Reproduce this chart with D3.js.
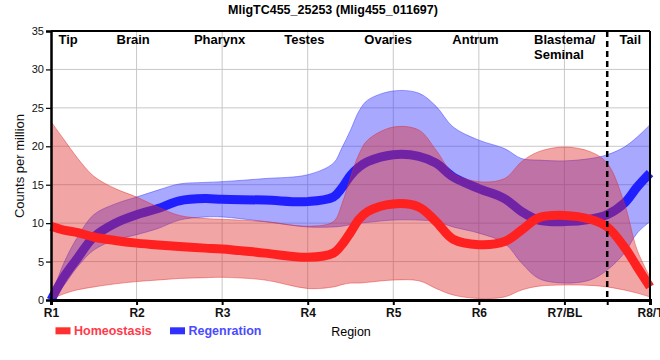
<!DOCTYPE html>
<html>
<head>
<meta charset="utf-8">
<script src="https://cdn.jsdelivr.net/npm/d3@7"></script>
<style>
  html, body { margin: 0; padding: 0; background: #fff; }
  svg { display: block; font-family: "Liberation Sans", Arial, sans-serif; }
</style>
</head>
<body>
<svg id="chart" width="660" height="360"></svg>
<script>
// ---- data ----
const title = "MligTC455_25253 (Mlig455_011697)";
const tickLabels = ["R1", "R2", "R3", "R4", "R5", "R6", "R7/BL", "R8/T"];
const regionNames = ["Tip", "Brain", "Pharynx", "Testes", "Ovaries", "Antrum", "Blastema/|Seminal", "Tail"];
const regionPos = [1.2, 1.96, 2.97, 3.96, 4.94, 5.96, 6.645, 7.77];
const yTicks = [0, 5, 10, 15, 20, 25, 30, 35];
const seriesNames = ["Homeostasis", "Regenration"];

// positions along the region axis (1 = R1 ... 8 = R8)
const pos = [1, 1.15, 1.3, 1.5, 1.75, 2, 2.25, 2.5, 2.8, 3, 3.5, 4, 4.3, 4.4, 4.5, 4.6, 4.7, 5, 5.3, 5.5, 5.7, 6, 6.3, 6.5, 6.7, 7, 7.3, 7.5, 7.7, 7.85, 8];

const homMean  = [9.6, 9.1, 8.8, 8.2, 7.75, 7.4, 7.15, 6.95, 6.75, 6.65, 6.1, 5.55, 6.1, 7.2, 8.8, 10.5, 11.5, 12.5, 12.1, 10.2, 7.9, 7.2, 7.6, 9.1, 10.7, 11.0, 10.5, 9.5, 6.9, 4.3, 1.7];
const homUpper = [23.2, 20.9, 18.6, 16.1, 14.5, 13.4, 12.1, 11.0, 10.6, 10.5, 10.2, 9.6, 10.2, 12.5, 16.0, 19.0, 20.8, 22.5, 22.1, 19.5, 16.5, 15.4, 15.8, 18.0, 19.3, 19.9, 19.3, 17.8, 12.6, 6.5, 3.0];
const homLower = [0.1, 0.8, 1.3, 1.7, 2.1, 2.4, 2.6, 2.8, 2.9, 2.95, 2.6, 1.5, 1.7, 2.0, 2.2, 2.2, 2.3, 2.6, 2.5, 1.5, 0.65, 0.2, 0.4, 1.3, 1.8, 1.95, 1.9, 1.7, 1.3, 0.9, 0.4];

const regMean  = [0, 3.0, 5.3, 8.2, 10.0, 11.1, 11.9, 12.9, 13.2, 13.1, 13.0, 12.8, 13.4, 14.6, 16.2, 17.3, 18.0, 18.9, 18.7, 17.8, 16.0, 14.5, 13.2, 11.5, 10.4, 10.2, 10.5, 11.1, 12.6, 14.7, 16.5];
const regUpper = [0.3, 4.8, 8.0, 11.1, 12.5, 13.4, 14.3, 15.1, 15.3, 15.4, 15.8, 16.3, 17.8, 19.8, 22.1, 24.6, 26.0, 27.2, 26.9, 25.2, 22.5, 20.8, 19.7, 18.4, 18.2, 18.1, 18.4, 18.9, 19.9, 21.2, 22.8];
const regLower = [0, 1.9, 4.2, 6.5, 7.8, 8.5, 9.3, 10.4, 10.8, 10.8, 10.2, 9.5, 9.5, 9.6, 9.8, 10.0, 10.1, 10.4, 10.4, 10.2, 9.5, 8.7, 7.4, 4.8, 2.8, 2.2, 2.6, 3.9, 6.1, 8.7, 10.2];

const divider = 7.5;

// ---- chart ----
const svg = d3.select("#chart");
const x = d3.scaleLinear().domain([1, 8]).range([51, 650]);
const y = d3.scaleLinear().domain([0, 35]).range([300, 31]);

const build = (m, u, l) => pos.map((p, i) => ({ p, m: m[i], u: u[i], l: l[i] }));
const hom = build(homMean, homUpper, homLower);
const reg = build(regMean, regUpper, regLower);

// grid
const grid = svg.append("g");
grid.selectAll(".hg").data(yTicks.filter(v => v > 0 && v < 35)).join("line")
  .attr("x1", x(1)).attr("x2", x(8)).attr("y1", d => y(d)).attr("y2", d => y(d))
  .attr("stroke", "#c8c8c8").attr("stroke-width", 1);
grid.selectAll(".vg").data(d3.range(2, 8)).join("line")
  .attr("x1", d => x(d)).attr("x2", d => x(d)).attr("y1", y(0)).attr("y2", y(35))
  .attr("stroke", "#c8c8c8").attr("stroke-width", 1);

const curve = d3.curveCatmullRom.alpha(0.5);
const area = d3.area().x(d => x(d.p)).y0(d => y(d.l)).y1(d => y(d.u)).curve(curve);
const upperLine = d3.line().x(d => x(d.p)).y(d => y(d.u)).curve(curve);
const lowerLine = d3.line().x(d => x(d.p)).y(d => y(d.l)).curve(curve);
const meanLine = d3.line().x(d => x(d.p)).y(d => y(d.m)).curve(curve);

function band(data, fill, edge) {
  svg.append("path").datum(data).attr("d", area).attr("fill", fill).attr("fill-opacity", 0.42);
  svg.append("path").datum(data).attr("d", upperLine).attr("fill", "none").attr("stroke", edge).attr("stroke-opacity", 0.45).attr("stroke-width", 1);
  svg.append("path").datum(data).attr("d", lowerLine).attr("fill", "none").attr("stroke", edge).attr("stroke-opacity", 0.45).attr("stroke-width", 1);
}
function mean(data, color) {
  svg.append("path").datum(data).attr("d", meanLine).attr("fill", "none")
    .attr("stroke", color).attr("stroke-width", 9);
}

band(reg, "#3030ff", "#3030ff");
mean(reg, "#2020ff");
band(hom, "#e02828", "#e02828");
mean(hom, "#ff2020");

// divider
svg.append("line").attr("x1", x(divider)).attr("x2", x(divider)).attr("y1", y(35)).attr("y2", y(0))
  .attr("stroke", "#000").attr("stroke-width", 2.5).attr("stroke-dasharray", "6,4");

// frame
svg.append("line").attr("x1", x(1)).attr("x2", x(8)).attr("y1", y(35)).attr("y2", y(35)).attr("stroke", "#000").attr("stroke-width", 2);
svg.append("line").attr("x1", x(8)).attr("x2", x(8)).attr("y1", y(35)).attr("y2", y(0)).attr("stroke", "#000").attr("stroke-width", 2);

// axes
const yAxis = svg.append("g").attr("transform", `translate(${x(1)},0)`)
  .call(d3.axisLeft(y).tickValues(yTicks).tickSize(5).tickPadding(2).tickFormat(d3.format("d")));
yAxis.select(".domain").attr("stroke", "#000").attr("stroke-width", 2.5);
yAxis.selectAll(".tick line").attr("stroke", "#000").attr("stroke-width", 1.2);
yAxis.selectAll(".tick text").attr("font-size", 11).attr("fill", "#111")
  .style("font-family", '"Liberation Sans", Arial, sans-serif');

const xAxis = svg.append("g").attr("transform", `translate(0,${y(0)})`)
  .call(d3.axisBottom(x).tickValues([1, 2, 3, 4, 5, 6, 7, divider, 8]).tickSize(5).tickPadding(3)
    .tickFormat(d => Number.isInteger(d) ? tickLabels[d - 1] : ""));
xAxis.select(".domain").attr("stroke", "#000").attr("stroke-width", 3);
xAxis.selectAll(".tick line").attr("stroke", "#000").attr("stroke-width", 2);
xAxis.selectAll(".tick text").attr("font-size", 12).attr("font-weight", "bold").attr("fill", "#111")
  .style("font-family", '"Liberation Sans", Arial, sans-serif');

// title
svg.append("text").attr("x", 333).attr("y", 14).attr("text-anchor", "middle")
  .attr("font-size", 12.5).attr("font-weight", "bold").text(title);

// region names
regionNames.forEach((name, i) => {
  const parts = name.split("|");
  const t = svg.append("text").attr("font-size", 13).attr("font-weight", "bold").attr("fill", "#000")
    .attr("text-anchor", parts.length > 1 ? "start" : "middle");
  parts.forEach((s, j) => {
    t.append("tspan").attr("x", x(regionPos[i])).attr("y", 44 + j * 14.7).text(s);
  });
});

// y title
svg.append("text").attr("transform", "translate(19.5,166) rotate(-90)").attr("dy", "0.35em")
  .attr("text-anchor", "middle").attr("font-size", 13).attr("fill", "#111").text("Counts per million");

// legend
const legendColors = ["#ff3030", "#3030ff"];
const legendText = ["#ff3a4a", "#4a4aff"];
const legendX = [55.5, 170];
seriesNames.forEach((n, i) => {
  svg.append("rect").attr("x", legendX[i]).attr("y", 327.3).attr("width", 15).attr("height", 7).attr("fill", legendColors[i]);
  svg.append("text").attr("x", legendX[i] + 18.5).attr("y", 335.2).attr("font-size", 12.5).attr("font-weight", "bold")
    .attr("fill", legendText[i]).text(n);
});
svg.append("text").attr("x", 351).attr("y", 336).attr("text-anchor", "middle").attr("font-size", 12.5).attr("fill", "#000").text("Region");
</script>
</body>
</html>
